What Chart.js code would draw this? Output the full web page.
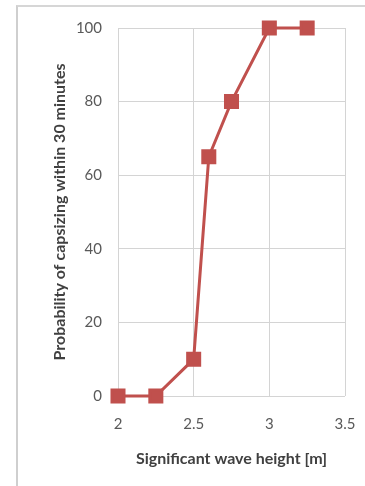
<!DOCTYPE html>
<html>
<head>
<meta charset="utf-8">
<script src="https://cdn.jsdelivr.net/npm/chart.js@4"></script>
<style>
  body { margin: 0; background: #fff; }
  #wrap { position: relative; width: 365px; height: 486px; overflow: hidden; }
  #frame { position: absolute; left: 16px; top: 5px; width: 400px; height: 500px;
           border-left: 2px solid #cfcfcf; border-top: 2px solid #d6d6d6; }
  canvas { position: absolute; left: 0; top: 0; }
</style>
</head>
<body>
<div id="wrap">
  <div id="frame"></div>
  <canvas id="myChart" width="365" height="486"></canvas>
</div>
<script>
const waveHeight = [2, 2.25, 2.5, 2.6, 2.75, 3, 3.25];
const probability = [0, 0, 10, 65, 80, 100, 100];
const xTitle = 'Significant wave height [m]';
const yTitle = 'Probability of capsizing within 30 minutes';

const red = '#c0504d';
const gridColor = '#d4d4d4';
const tickFont = { family: 'Lato', size: 15 };
const titleFont = { family: 'Lato', size: 16, weight: 'bold' };

document.addEventListener('DOMContentLoaded', function () {
  const ctx = document.getElementById('myChart');

  new Chart(ctx, {
    type: 'scatter',
    data: {
      datasets: [
        {
          data: waveHeight.map((x, i) => ({ x: x, y: probability[i] })),
          showLine: true,
          clip: false,
          borderColor: red,
          backgroundColor: red,
          borderWidth: 3,
          pointStyle: 'rect',
          pointRadius: 8.5,
          pointHoverRadius: 8.5,
        },
      ],
    },
    options: {
      responsive: false,
      animation: false,
      layout: { padding: { left: 46, right: 20, top: 28, bottom: 0 } },
      plugins: { legend: { display: false }, tooltip: { enabled: false } },
      scales: {
        x: {
          type: 'linear',
          min: 2,
          max: 3.5,
          afterFit: (scale) => {
            scale.height = 90;
            scale.paddingLeft = 0;
            scale.paddingRight = 0;
          },
          ticks: {
            stepSize: 0.5,
            padding: 19,
            color: '#595959',
            font: tickFont,
            callback: (v) => String(v),
          },
          grid: { color: gridColor, drawTicks: false },
          border: { display: false },
          title: { display: true, text: xTitle, color: '#404040', font: titleFont, padding: { top: 4, bottom: 18 } },
        },
        y: {
          min: 0,
          max: 100,
          afterFit: (scale) => {
            scale.width = 72;
            scale.paddingTop = 0;
            scale.paddingBottom = 0;
          },
          ticks: { stepSize: 20, padding: 16, color: '#595959', font: tickFont },
          grid: { color: gridColor, drawTicks: false },
          border: { display: false },
          title: { display: true, text: yTitle, color: '#404040', font: titleFont, padding: { top: 4, bottom: 4 } },
        },
      },
    },
  });
});
</script>
</body>
</html>
